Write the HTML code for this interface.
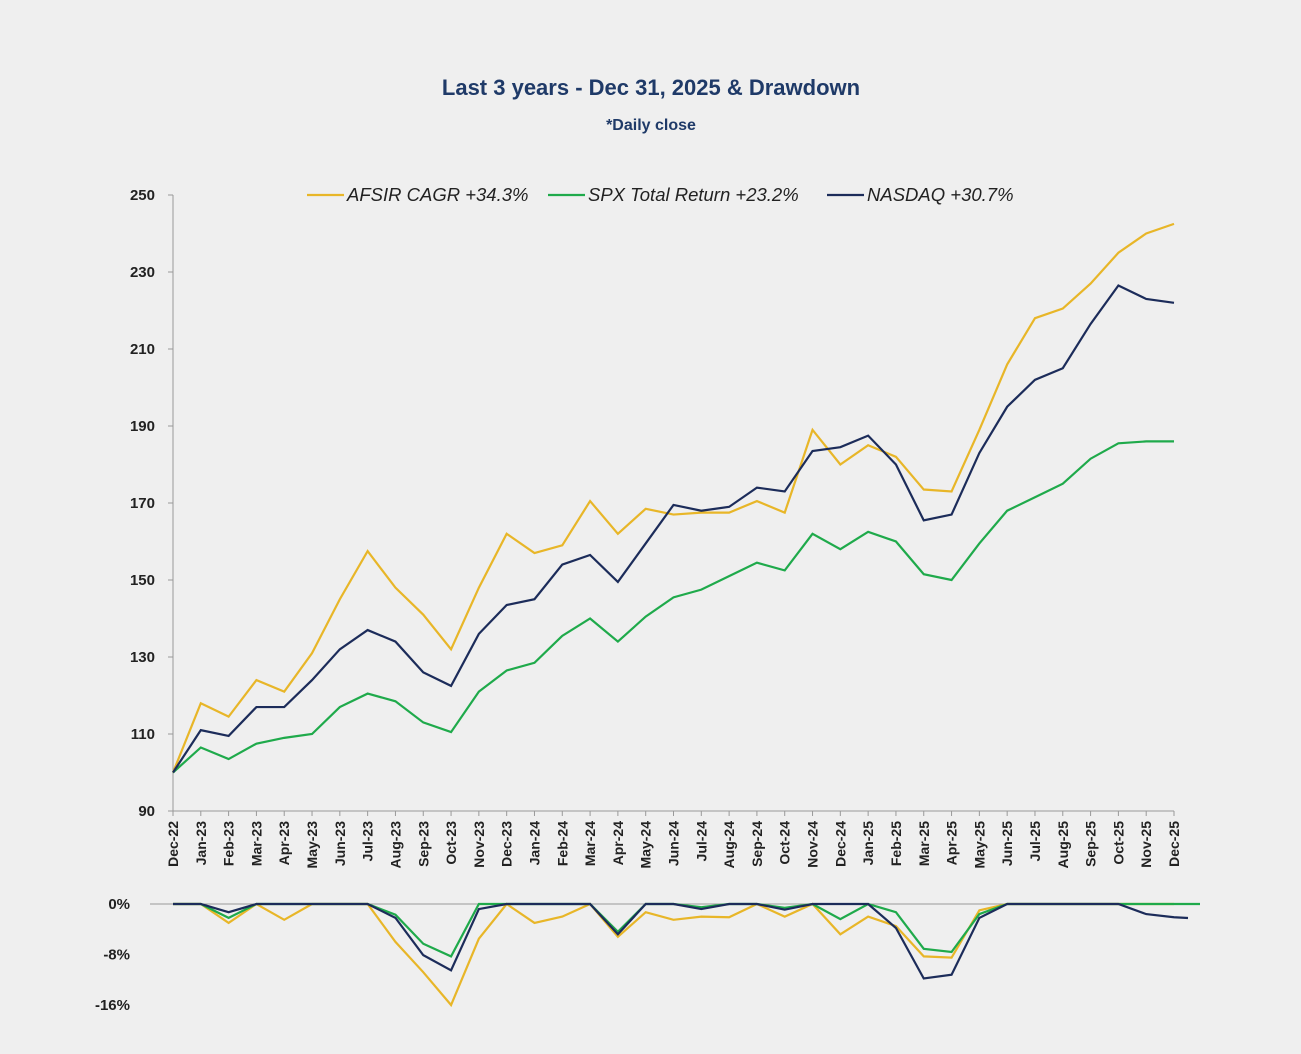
<!DOCTYPE html>
<html><head><meta charset="utf-8"><style>
body{margin:0;background:#efefef;font-family:"Liberation Sans",sans-serif;}
svg{display:block}
</style></head><body>
<svg id="chart" width="1301" height="1054" xmlns="http://www.w3.org/2000/svg">
<rect width="1301" height="1054" fill="#efefef"/>
<text x="651" y="95" text-anchor="middle" font-size="22" font-weight="bold" fill="#1f3a68">Last 3 years - Dec 31, 2025 &amp; Drawdown</text>
<text x="651" y="130" text-anchor="middle" font-size="16" font-weight="bold" fill="#1f3a68">*Daily close</text>
<g id="legend"></g>
<g id="main"></g>
<g id="dd"></g>
</svg>
<script>
const months=["Dec-22","Jan-23","Feb-23","Mar-23","Apr-23","May-23","Jun-23","Jul-23","Aug-23","Sep-23","Oct-23","Nov-23","Dec-23","Jan-24","Feb-24","Mar-24","Apr-24","May-24","Jun-24","Jul-24","Aug-24","Sep-24","Oct-24","Nov-24","Dec-24","Jan-25","Feb-25","Mar-25","Apr-25","May-25","Jun-25","Jul-25","Aug-25","Sep-25","Oct-25","Nov-25","Dec-25"];
const afsir=[100,118,114.5,124,121,131,145,157.5,148,141,132,148,162,157,159,170.5,162,168.5,167,167.5,167.5,170.5,167.5,189,180,185,182,173.5,173,189,206,218,220.5,227,235,240,242.5];
const spx=[100,106.5,103.5,107.5,109,110,117,120.5,118.5,113,110.5,121,126.5,128.5,135.5,140,134,140.5,145.5,147.5,151,154.5,152.5,162,158,162.5,160,151.5,150,159.5,168,171.5,175,181.5,185.5,186,186];
const nasdaq=[100,111,109.5,117,117,124,132,137,134,126,122.5,136,143.5,145,154,156.5,149.5,159.5,169.5,168,169,174,173,183.5,184.5,187.5,180,165.5,167,183,195,202,205,216.5,226.5,223,222];
const ddAfsir=[0,0,-3,0,-2.5,0,0,0,-6,-10.8,-16,-5.5,0,-3,-2,0,-5.2,-1.3,-2.5,-2,-2.1,0,-2,0,-4.8,-2,-3.5,-8.3,-8.5,-1,0,0,0,0,0,0,0];
const ddSpx=[0,0,-2.2,0,0,0,0,0,-1.7,-6.3,-8.3,0,0,0,0,0,-4.4,0,0,-0.5,0,0,-0.6,0,-2.4,0,-1.3,-7.1,-7.6,-1.6,0,0,0,0,0,0,0];
const ddNasdaq=[0,0,-1.3,0,0,0,0,0,-2.2,-8.1,-10.5,-0.8,0,0,0,0,-4.8,0,0,-0.8,0,0,-0.9,0,0,0,-3.8,-11.8,-11.2,-2.2,0,0,0,0,0,-1.6,-2.1];
const yTicks=[90,110,130,150,170,190,210,230,250];
const ddTicks=[0,-8,-16];
const legendLabels=["AFSIR  CAGR +34.3%","SPX Total Return +23.2%","NASDAQ +30.7%"];
const colors=["#e8b628","#1faa4b","#1c2c5a"];

const NS="http://www.w3.org/2000/svg";
function mk(p,t,a){const e=document.createElementNS(NS,t);for(const k in a)e.setAttribute(k,a[k]);p.appendChild(e);return e;}
const x=i=>173+i*(1001/36);
const y=v=>811-(v-90)*(616/160);
const yd=v=>904-v*(101/16);
const main=document.getElementById('main'),dd=document.getElementById('dd'),lg=document.getElementById('legend');

let ax=mk(main,'line',{x1:173,y1:195,x2:173,y2:811,stroke:'#999','stroke-width':1});


let bx=mk(main,'line',{x1:173,y1:811,x2:1174,y2:811,stroke:'#999','stroke-width':1});


yTicks.forEach(v=>{
 const t=mk(main,'text',{x:155,y:y(v)+5,'text-anchor':'end','font-size':15,'font-weight':'bold',fill:'#222'});t.textContent=v;
 
 
 mk(main,'line',{x1:168,y1:y(v),x2:173,y2:y(v),stroke:'#999'});
});
months.forEach((m,i)=>{
 mk(main,'line',{x1:x(i),y1:811,x2:x(i),y2:816,stroke:'#999'});
 const t=mk(main,'text',{x:0,y:0,transform:`translate(${x(i)+5},${821}) rotate(-90)`,'text-anchor':'end','font-size':14,'font-weight':'bold',fill:'#222'});t.textContent=m;
 
 
});
const names=['afsir','spx','nasdaq'];
[afsir,spx,nasdaq].forEach((s,k)=>{
 const p=mk(main,'polyline',{points:s.map((v,i)=>x(i)+','+y(v)).join(' '),fill:'none',stroke:colors[k],'stroke-width':2.2});
 
 
});
const lx=[307,548,827];
legendLabels.forEach((l,k)=>{
 mk(lg,'line',{x1:lx[k],y1:195,x2:lx[k]+37,y2:195,stroke:colors[k],'stroke-width':2.2});
 const t=mk(lg,'text',{x:lx[k]+40,y:201,'font-size':18.5,'font-style':'italic',fill:'#222'});t.textContent=l;
 
 
});
let zl=mk(dd,'line',{x1:150,y1:904,x2:1200,y2:904,stroke:'#999'});


ddTicks.forEach(v=>{
 const t=mk(dd,'text',{x:130,y:yd(v)+5,'text-anchor':'end','font-size':15,'font-weight':'bold',fill:'#222'});t.textContent=v+'%';
 
 
});
[ddAfsir,ddSpx,ddNasdaq].forEach((s,k)=>{
 const p=mk(dd,'polyline',{points:s.map((v,i)=>x(i)+','+yd(v)).join(' ')+(k==1?' 1200,904':k==2?' 1188,918':''),fill:'none',stroke:colors[k],'stroke-width':2.2});
 
 
});
</script>
</body></html>
